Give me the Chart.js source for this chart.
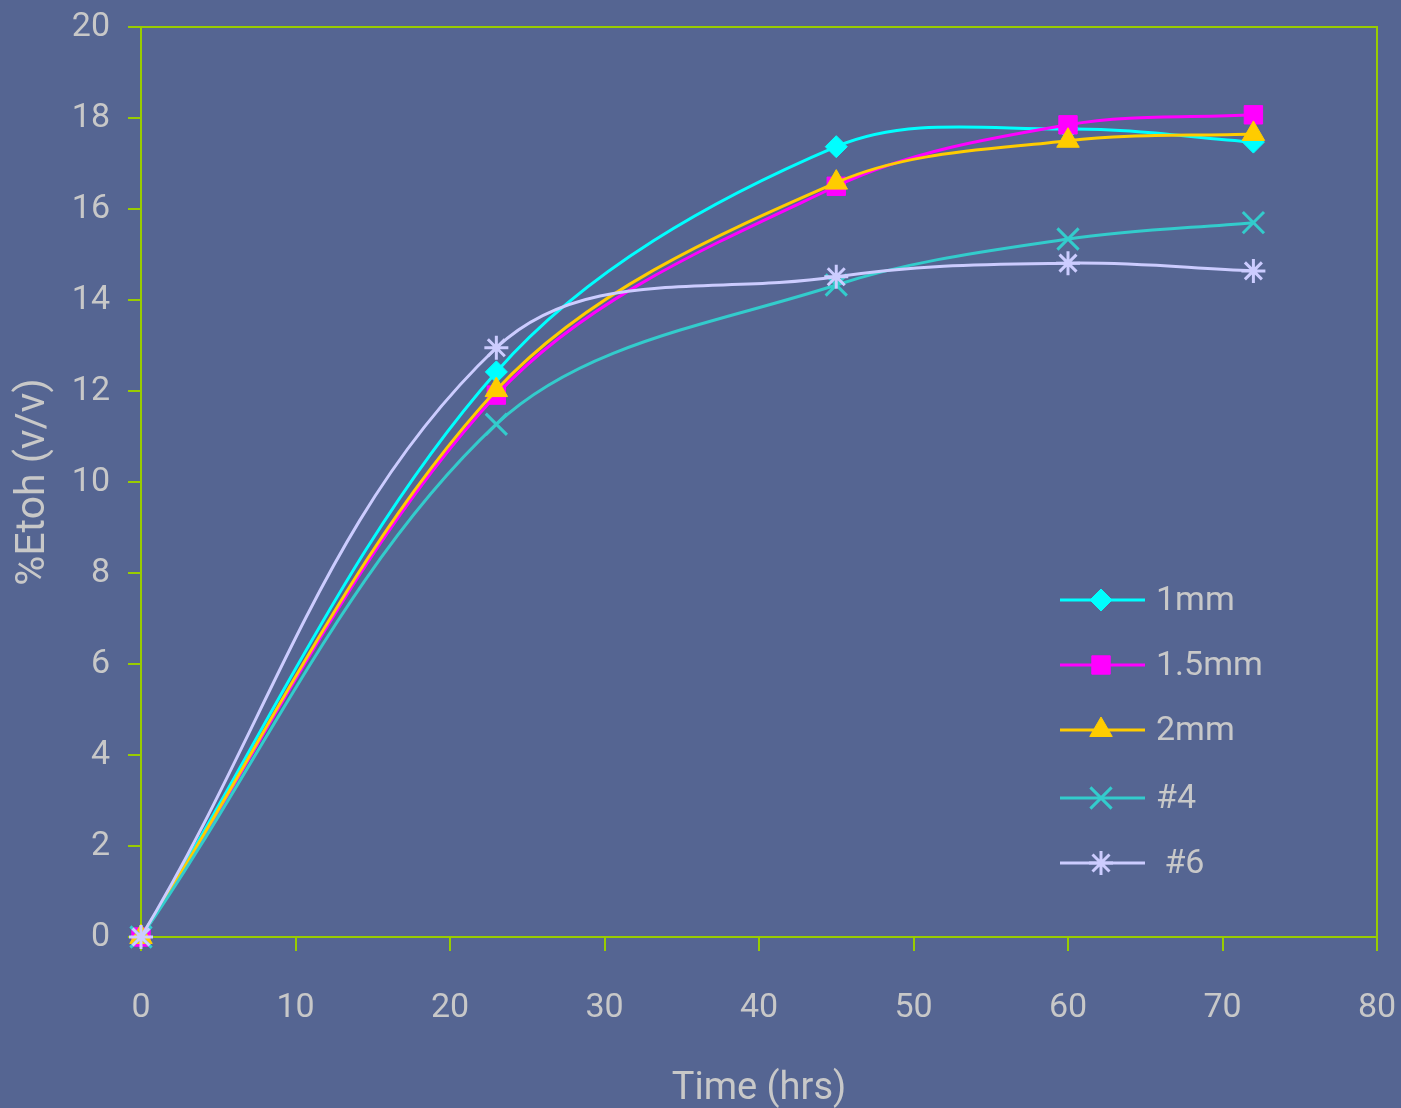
<!DOCTYPE html>
<html>
<head>
<meta charset="utf-8">
<script src="https://cdn.jsdelivr.net/npm/chart.js@4/dist/chart.umd.min.js"></script>
<style>
  html, body { margin: 0; padding: 0; background: #556592; }
  #wrap { width: 1401px; height: 1108px; }
</style>
</head>
<body>
<div id="wrap"><canvas id="c" width="1401" height="1108"></canvas></div>
<script>
// Sampling times (hours)
const hours = [0, 23, 45, 60, 72];

// Ethanol concentration, % v/v, per particle size / sample
const seriesNames = ['1mm', '1.5mm', '2mm', '#4', ' #6'];
const etoh1mm   = [0, 12.42, 17.37, 17.76, 17.47];
const etoh15mm  = [0, 11.91, 16.50, 17.85, 18.07];
const etoh2mm   = [0, 12.02, 16.58, 17.50, 17.65];
const etohNo4   = [0, 11.27, 14.33, 15.34, 15.70];
const etohNo6   = [0, 12.95, 14.51, 14.81, 14.64];

// Axis ticks
const xTicks = [0, 10, 20, 30, 40, 50, 60, 70, 80];
const yTicks = [0, 2, 4, 6, 8, 10, 12, 14, 16, 18, 20];

const AXIS = '#99CC00';
const TEXT = '#C8C8C8';
const FONT = 'Roboto';

const styles = [
  { color: '#00FFFF', point: 'rectRot',  radius: 11, bw: 1, tension: 0.34 },
  { color: '#FF00FF', point: 'rect',     radius: 13, bw: 1, tension: 0.34 },
  { color: '#FFCC00', point: 'triangle', radius: 13, bw: 1, tension: 0.34 },
  { color: '#33CCCC', point: 'crossRot', radius: 15, bw: 3, tension: 0.34 },
  { color: '#CCCCFF', point: 'star',     radius: 12, bw: 3, tension: 0.37 }
];
const values = [etoh1mm, etoh15mm, etoh2mm, etohNo4, etohNo6];

const datasets = values.map((vals, i) => ({
  label: seriesNames[i],
  data: hours.map((h, k) => ({ x: h, y: vals[k] })),
  showLine: true,
  tension: styles[i].tension,
  borderColor: styles[i].color,
  backgroundColor: styles[i].color,
  borderWidth: 3,
  pointStyle: styles[i].point,
  pointRadius: styles[i].radius,
  pointHoverRadius: styles[i].radius,
  pointBorderWidth: styles[i].bw,
  pointBorderColor: styles[i].color,
  pointBackgroundColor: styles[i].color,
  clip: false,
  order: -i
}));

// Top and right edges of the plot frame
const frame = {
  id: 'frame',
  beforeDatasetsDraw(chart) {
    const { ctx, chartArea: a } = chart;
    ctx.save();
    ctx.strokeStyle = AXIS;
    ctx.lineWidth = 2;
    ctx.beginPath();
    ctx.moveTo(a.left, a.top);
    ctx.lineTo(a.right, a.top);
    ctx.lineTo(a.right, a.bottom);
    ctx.stroke();
    ctx.restore();
  }
};

// Legend drawn inside the plot, lower right
const innerLegend = {
  id: 'innerLegend',
  afterDatasetsDraw(chart) {
    const { ctx } = chart;
    const rows = [600, 665, 730, 798, 863];
    ctx.save();
    chart.data.datasets.forEach((ds, i) => {
      const y = rows[i];
      ctx.strokeStyle = ds.borderColor;
      ctx.lineWidth = 3;
      ctx.beginPath();
      ctx.moveTo(1060, y);
      ctx.lineTo(1145, y);
      ctx.stroke();
      ctx.fillStyle = ds.pointBackgroundColor;
      ctx.strokeStyle = ds.pointBorderColor;
      ctx.lineWidth = ds.pointBorderWidth;
      Chart.helpers.drawPoint(ctx, {
        pointStyle: ds.pointStyle,
        radius: ds.pointRadius,
        rotation: 0,
        borderWidth: ds.pointBorderWidth
      }, 1101, y);
      ctx.fillStyle = TEXT;
      ctx.font = '34px ' + FONT;
      ctx.textAlign = 'left';
      ctx.textBaseline = 'middle';
      ctx.fillText(ds.label, 1156, y + 1);
    });
    ctx.restore();
  }
};

// Let the layout padding alone decide where the plot edges sit
function noLabelPadding(s) {
  s.paddingTop = 0; s.paddingBottom = 0; s.paddingLeft = 0; s.paddingRight = 0;
}

new Chart(document.getElementById('c'), {
  type: 'scatter',
  data: { datasets },
  options: {
    responsive: false,
    animation: false,
    devicePixelRatio: 1,
    layout: { padding: { top: 27, right: 24, bottom: 0, left: 0 } },
    plugins: {
      legend: { display: false },
      tooltip: { enabled: false }
    },
    scales: {
      x: {
        type: 'linear',
        min: 0, max: 80,
        afterBuildTicks(s) { s.ticks = xTicks.map(v => ({ value: v })); },
        afterFit(s) { s.height = 171; noLabelPadding(s); },
        border: { color: AXIS, width: 2 },
        grid: { drawOnChartArea: false, drawTicks: true, tickLength: 14, color: AXIS, lineWidth: 2 },
        ticks: { color: TEXT, font: { family: FONT, size: 34 }, padding: 37, maxRotation: 0 },
        title: {
          display: true, text: 'Time (hrs)', color: TEXT,
          font: { family: FONT, size: 38, lineHeight: 1 },
          padding: { top: 0, bottom: 0 }
        }
      },
      y: {
        type: 'linear',
        min: 0, max: 20,
        afterBuildTicks(s) { s.ticks = yTicks.map(v => ({ value: v })); },
        afterFit(s) { s.width = 141; noLabelPadding(s); },
        border: { color: AXIS, width: 2 },
        grid: { drawOnChartArea: false, drawTicks: true, tickLength: 13, color: AXIS, lineWidth: 2 },
        ticks: { color: TEXT, font: { family: FONT, size: 34 }, padding: 18 },
        title: {
          display: true, text: '%Etoh (v/v)', color: TEXT,
          font: { family: FONT, size: 41, lineHeight: 1 },
          padding: { top: 13, bottom: 0 }
        }
      }
    }
  },
  plugins: [frame, innerLegend]
});
</script>
</body>
</html>
